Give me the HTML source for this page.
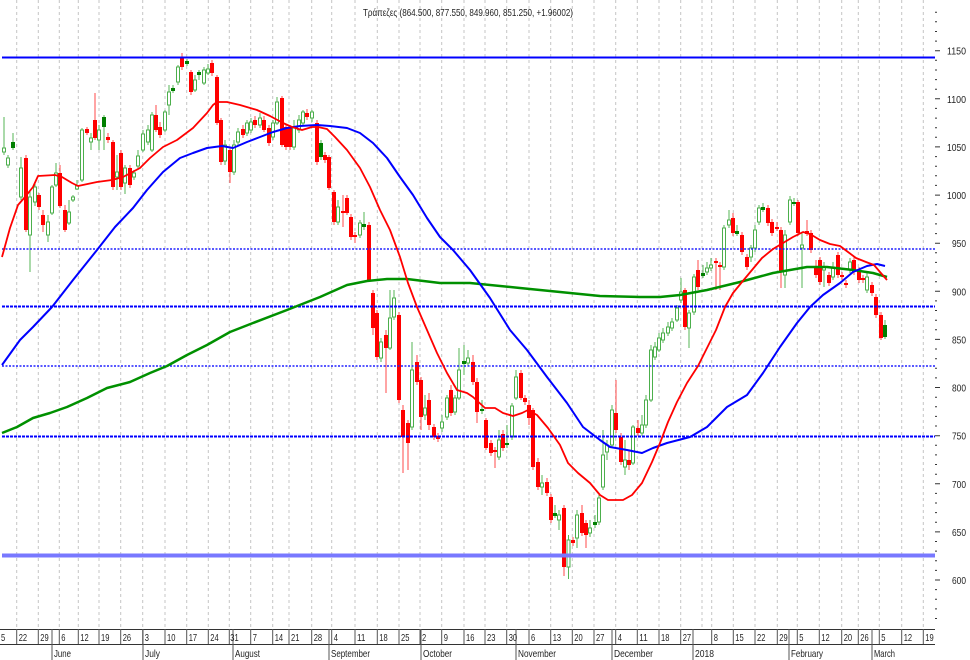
<!DOCTYPE html>
<html><head><meta charset="utf-8"><style>
html,body{margin:0;padding:0;background:#fff;}
svg{display:block;}
text{font-family:"Liberation Sans","Noto Sans CJK SC",sans-serif;fill:#222;}
</style></head><body>
<svg width="970" height="660" viewBox="0 0 970 660" xmlns="http://www.w3.org/2000/svg">
<rect width="970" height="660" fill="#fff"/>
<!-- vertical grid -->
<g stroke="#c4c4c4" stroke-width="1" stroke-dasharray="3,3" fill="none">
<path d="M16.7,0V628M38.3,0V628M59.3,0V628M78.3,0V628M99,0V628M120.7,0V628M142.7,0V628M165,0V628M186.7,0V628M208.3,0V628M229.3,0V628M250.7,0V628M272.7,0V628M289,0V628M311.7,0V628M331.7,0V628M355,0V628M377.3,0V628M399,0V628M420,0V628M441.7,0V628M464,0V628M485,0V628M506.7,0V628M529,0V628M550.7,0V628M572.3,0V628M594,0V628M615.7,0V628M637.3,0V628M659,0V628M680.7,0V628M702,0V628M711.7,0V628M733.3,0V628M755,0V628M777.3,0V628M797.3,0V628M819.3,0V628M841.7,0V628M858.3,0V628M879.3,0V628M901.7,0V628M923.3,0V628"/>
</g>
<!-- title -->
<text x="363" y="16" font-size="10.5" textLength="210" lengthAdjust="spacingAndGlyphs">Τράπεζες (864.500, 877.550, 849.960, 851.250, +1.96002)</text>
<!-- wicks -->
<path fill="none" stroke="#ff4a4a" stroke-width="1" d="M26,155V232M39,193V210M43,210V232M60,165V208M65,205V232M87,127V135M95,93V140M108,133V143M113,140V190M121,150V190M130,165V188M156,105V132M160,122V138M182,53V70M191,70V95M212,60V76M217,75V125M221,118V165M230,148V183M243,125V138M255,116V128M264,116V132M269,125V146M282,96V147M286,125V150M290,125V150M307,109V120M317,120V165M325,152V163M329,155V190M334,190V225M343,195V227M347,195V215M351,214V240M355,232V243M369,222V282M373,290V335M377,310V360M386,330V393M399,312V403M403,405V473M408,420V470M417,355V385M421,377V430M429,393V430M434,424V440M438,433V442M451,385V416M473,355V385M477,378V423M486,418V450M491,440V456M495,447V468M503,430V451M521,370V400M525,395V405M529,400V425M533,408V470M538,458V490M547,478V496M551,494V523M564,505V576M573,537V546M582,505V536M586,520V548M616,380V433M621,433V465M629,450V470M638,420V436M685,288V330M698,260V290M716,258V290M720,262V290M733,213V236M742,232V255M747,254V270M768,205V226M772,219V236M777,222V231M781,227V288M798,200V236M807,220V236M811,230V253M816,260V278M820,257V285M829,272V286M838,252V278M842,272V280M846,280V288M854,257V275M859,267V283M863,275V283M872,282V296M876,294V318M881,312V340"/>
<path fill="none" stroke="#55b555" stroke-width="1" d="M4,117V155M8,155V168M13,133V150M21,157V200M30,190V272M35,183V206M48,215V242M52,185V215M56,163V187M69,200V225M73,195V202M77,180V190M82,128V182M91,133V150M99,125V150M104,115V150M117,155V190M125,165V194M134,170V180M138,150V170M143,130V152M148,125V145M152,112V152M165,110V132M169,85V115M173,85V93M178,65V85M187,59V66M195,75V92M199,70V80M204,67V85M208,64V75M225,140V165M234,140V175M238,128V145M247,120V136M251,118V133M260,113V128M273,120V140M277,97V125M294,120V150M299,115V133M303,110V126M312,110V122M321,140V160M338,200V225M360,220V238M364,212V230M381,338V362M390,290V350M394,290V320M412,342V430M425,395V420M442,415V432M447,395V420M455,395V415M459,348V400M464,345V375M468,350V366M482,400V414M499,430V460M507,425V448M512,403V440M516,370V400M542,475V495M555,505V518M559,510V530M568.5,535V579M577,510V548M590,520V537M595,515V528M599,495V525M603,430V490M607,440V460M612,405V448M625,440V475M633,425V465M642,415V436M646,395V428M651,345V402M655,342V360M659,333V352M663,328V343M668,322V336M672,318V331M677,305V322M681,278V303M689,310V348M694,274V315M703,265V278M707,262V275M711,258V271M724,225V270M729,210V228M737,225V236M751,245V262M755,225V252M759,205V225M763,203V212M785,230V288M790,196V225M794,198V206M802,232V288M824,262V287M833,262V280M850,258V273M867,272V293M885,320V339"/>
<!-- red bodies -->
<path fill="#ff0000" stroke="none" d="M24,158h4V230h-4zM37,195h4V207h-4zM41,215h4V225h-4zM58,173h4V206h-4zM63,210h4V230h-4zM85,129h4V133h-4zM93,120h4V138h-4zM106,137h4V140h-4zM111,142h4V187h-4zM119,153h4V187h-4zM128,168h4V185h-4zM154,115h4V130h-4zM158,127h4V135h-4zM180,58h4V67h-4zM189,72h4V92h-4zM210,63h4V73h-4zM215,77h4V123h-4zM219,120h4V162h-4zM228,150h4V172h-4zM241,129h4V135h-4zM253,120h4V125h-4zM262,120h4V130h-4zM267,128h4V143h-4zM280,98h4V145h-4zM284,127h4V147h-4zM288,128h4V147h-4zM305,113h4V117h-4zM315,123h4V162h-4zM323,155h4V160h-4zM327,157h4V188h-4zM332,192h4V222h-4zM341,211h4V213h-4zM345,198h4V213h-4zM349,217h4V237h-4zM353,235h4V237h-4zM367,225h4V280h-4zM371,293h4V328h-4zM375,313h4V357h-4zM384,335h4V348h-4zM397,315h4V400h-4zM401,410h4V437h-4zM406,423h4V443h-4zM415,362h4V382h-4zM419,380h4V417h-4zM427,400h4V425h-4zM432,427h4V437h-4zM436,436h4V439h-4zM449,390h4V413h-4zM471,362h4V382h-4zM475,382h4V412h-4zM484,420h4V448h-4zM489,443h4V453h-4zM493,450h4V452h-4zM501,434h4V448h-4zM519,373h4V398h-4zM523,398h4V402h-4zM527,405h4V418h-4zM531,410h4V467h-4zM536,462h4V487h-4zM545,482h4V493h-4zM549,497h4V520h-4zM562,508h4V567h-4zM571,540h4V543h-4zM580,513h4V533h-4zM584,523h4V535h-4zM614,413h4V430h-4zM619,437h4V462h-4zM627,460h4V465h-4zM636,428h4V433h-4zM683,290h4V327h-4zM696,270h4V287h-4zM714,261h4V263h-4zM718,265h4V267h-4zM731,218h4V233h-4zM740,235h4V252h-4zM745,257h4V267h-4zM766,208h4V223h-4zM770,222h4V233h-4zM775,227h4V229h-4zM779,230h4V272h-4zM796,202h4V233h-4zM805,231h4V234h-4zM809,233h4V250h-4zM814,268h4V275h-4zM818,260h4V282h-4zM827,275h4V283h-4zM836,255h4V275h-4zM840,275h4V277h-4zM844,283h4V285h-4zM852,260h4V272h-4zM857,270h4V280h-4zM861,278h4V280h-4zM870,285h4V293h-4zM874,297h4V315h-4zM879,315h4V338h-4z"/>
<!-- dark green bodies -->
<path fill="#008000" stroke="none" d="M11,142h4V148h-4zM102,117h4V127h-4zM171,88h4V91h-4zM185,61h4V64h-4zM197,72h4V75h-4zM319,143h4V157h-4zM362,224h4V227h-4zM462,361h4V364h-4zM480,409h4V411h-4zM505,443h4V445h-4zM553,513h4V516h-4zM593,522h4V525h-4zM701,273h4V276h-4zM735,231h4V234h-4zM761,207h4V210h-4zM792,202h4V204h-4zM883,325h4V337h-4z"/>
<!-- hollow green bodies -->
<path fill="#fff" stroke="#4caf4c" stroke-width="1" d="M2.5,148h3V152h-3zM6.5,158h3V165h-3zM19.5,168h3V197h-3zM28.5,197h3V235h-3zM33.5,187h3V202h-3zM46.5,222h3V235h-3zM50.5,187h3V213h-3zM54.5,173h3V185h-3zM67.5,212h3V223h-3zM71.5,197h3V200h-3zM75.5,186h3V189h-3zM80.5,130h3V180h-3zM89.5,138h3V142h-3zM97.5,130h3V140h-3zM115.5,172h3V177h-3zM123.5,168h3V183h-3zM132.5,173h3V177h-3zM136.5,156h3V166h-3zM141.5,134h3V150h-3zM146.5,130h3V142h-3zM150.5,115h3V150h-3zM163.5,112h3V130h-3zM167.5,92h3V105h-3zM176.5,67h3V82h-3zM193.5,80h3V90h-3zM202.5,70h3V83h-3zM206.5,69h3V73h-3zM223.5,145h3V161h-3zM232.5,145h3V172h-3zM236.5,132h3V142h-3zM245.5,123h3V133h-3zM249.5,122h3V130h-3zM258.5,118h3V125h-3zM271.5,123h3V137h-3zM275.5,102h3V123h-3zM292.5,128h3V147h-3zM297.5,120h3V130h-3zM301.5,112h3V123h-3zM310.5,112h3V118h-3zM336.5,207h3V222h-3zM358.5,223h3V235h-3zM379.5,342h3V358h-3zM388.5,318h3V348h-3zM392.5,298h3V317h-3zM410.5,370h3V427h-3zM423.5,408h3V415h-3zM440.5,422h3V428h-3zM445.5,398h3V417h-3zM453.5,398h3V412h-3zM457.5,370h3V398h-3zM466.5,358h3V363h-3zM497.5,440h3V457h-3zM510.5,406h3V437h-3zM514.5,377h3V398h-3zM540.5,483h3V487h-3zM557.5,515h3V520h-3zM567,540h3V567h-3zM575.5,515h3V538h-3zM588.5,528h3V533h-3zM597.5,498h3V522h-3zM601.5,455h3V487h-3zM605.5,445h3V452h-3zM610.5,410h3V445h-3zM623.5,460h3V467h-3zM631.5,427h3V463h-3zM640.5,425h3V433h-3zM644.5,400h3V425h-3zM649.5,350h3V400h-3zM653.5,347h3V357h-3zM657.5,338h3V350h-3zM661.5,333h3V340h-3zM666.5,327h3V333h-3zM670.5,322h3V328h-3zM675.5,308h3V320h-3zM679.5,292h3V300h-3zM687.5,313h3V328h-3zM692.5,277h3V312h-3zM705.5,268h3V272h-3zM709.5,265h3V268h-3zM722.5,228h3V267h-3zM727.5,220h3V225h-3zM749.5,248h3V257h-3zM753.5,230h3V248h-3zM757.5,208h3V222h-3zM783.5,235h3V275h-3zM788.5,200h3V222h-3zM800.5,245h3V248h-3zM822.5,267h3V270h-3zM831.5,267h3V277h-3zM848.5,262h3V270h-3zM865.5,277h3V290h-3z"/>
<!-- level lines -->
<line x1="2" y1="57.5" x2="935" y2="57.5" stroke="#0000ff" stroke-width="2"/>
<line x1="2" y1="249" x2="935" y2="249" stroke="#2020ff" stroke-width="1.6" stroke-dasharray="2,1.5"/>
<line x1="2" y1="306.5" x2="935" y2="306.5" stroke="#0000ff" stroke-width="2" stroke-dasharray="3,1"/>
<line x1="2" y1="366" x2="935" y2="366" stroke="#2020ff" stroke-width="1.6" stroke-dasharray="2,1.5"/>
<line x1="2" y1="436.5" x2="935" y2="436.5" stroke="#0000ff" stroke-width="2" stroke-dasharray="3,1"/>
<line x1="2" y1="555.5" x2="935" y2="555.5" stroke="#7878ff" stroke-width="4"/>
<!-- moving averages -->
<polyline fill="none" stroke="#009000" stroke-width="2.5" stroke-linejoin="round" points="2,433 17,427 33,418 50,413 67,407 87,398 107,388 130,382 150,373 167,366 187,355 207,345 230,332 253,323 287,310 320,297 347,285 367,281 387,279 407,279 440,283 470,283 520,288 560,292 600,296 640,297 660,297 680,295 707,290 740,282 773,273 807,267 827,267 853,270 873,273 887,277"/>
<polyline fill="none" stroke="#0000ff" stroke-width="2" stroke-linejoin="round" points="2,365 20,340 33,327 52,307 73,280 97,250 115,227 133,208 147,190 163,172 180,158 193,153 207,148 222,146 233,148 247,142 260,137 273,132 287,128 300,126 317,125 330,126 347,128 360,133 373,143 387,158 400,177 413,195 427,218 440,237 453,250 470,270 490,298 510,330 527,350 547,377 567,403 583,427 600,440 610,447 627,450 642,453 653,448 667,443 690,437 707,427 727,407 747,395 763,373 780,347 797,323 810,307 823,295 840,283 853,272 867,266 877,264 885,266"/>
<polyline fill="none" stroke="#ff0000" stroke-width="1.8" stroke-linejoin="round" points="2,257 10,228 18,205 25,197 33,187 38,176 55,175 62,177 72,183 78,186 97,182 112,180 123,177 140,168 150,158 163,147 177,140 193,128 207,113 213,105 217,102 227,102 240,105 257,110 270,116 283,123 292,127 302,130 312,127 318,127 327,129 335,137 347,150 360,168 370,187 380,210 390,230 400,257 408,283 417,307 427,330 437,353 447,373 457,390 467,393 473,397 485,408 495,408 503,413 513,416 522,413 528,410 537,415 548,428 560,445 568,463 578,473 590,483 600,495 608,500 623,500 632,495 642,483 652,462 660,443 668,422 677,402 687,383 698,366 707,348 716,330 725,307 733,293 742,282 752,270 762,258 773,249 783,243 793,237 803,232 810,234 820,240 830,244 840,246 848,252 856,258 866,262 874,265 880,272 887,280"/>
<!-- right axis ticks -->
<path fill="none" stroke="#333" stroke-width="1" d="M935,12.2h2M935,21.8h2M935,31.5h2M935,41.1h2M935,50.7h5M935,60.3h2M935,70h2M935,79.6h2M935,89.2h2M935,98.8h5M935,108.4h2M935,118.1h2M935,127.7h2M935,137.3h2M935,146.9h5M935,156.6h2M935,166.2h2M935,175.8h2M935,185.4h2M935,195.1h5M935,204.7h2M935,214.3h2M935,223.9h2M935,233.6h2M935,243.2h5M935,252.8h2M935,262.4h2M935,272.1h2M935,281.7h2M935,291.3h5M935,300.9h2M935,310.5h2M935,320.2h2M935,329.8h2M935,339.4h5M935,349h2M935,358.7h2M935,368.3h2M935,377.9h2M935,387.5h5M935,397.2h2M935,406.8h2M935,416.4h2M935,426h2M935,435.7h5M935,445.3h2M935,454.9h2M935,464.5h2M935,474.2h2M935,483.8h5M935,493.4h2M935,503h2M935,512.6h2M935,522.3h2M935,531.9h5M935,541.5h2M935,551.1h2M935,560.8h2M935,570.4h2M935,580h5M935,589.6h2M935,599.3h2M935,608.9h2M935,618.5h2"/>
<g font-size="10.5" text-anchor="end">
<text x="966" y="54.7" textLength="19" lengthAdjust="spacingAndGlyphs">1150</text>
<text x="966" y="102.8" textLength="19" lengthAdjust="spacingAndGlyphs">1100</text>
<text x="966" y="150.9" textLength="19" lengthAdjust="spacingAndGlyphs">1050</text>
<text x="966" y="199.1" textLength="19" lengthAdjust="spacingAndGlyphs">1000</text>
<text x="966" y="247.2" textLength="14" lengthAdjust="spacingAndGlyphs">950</text>
<text x="966" y="295.3" textLength="14" lengthAdjust="spacingAndGlyphs">900</text>
<text x="966" y="343.4" textLength="14" lengthAdjust="spacingAndGlyphs">850</text>
<text x="966" y="391.5" textLength="14" lengthAdjust="spacingAndGlyphs">800</text>
<text x="966" y="439.7" textLength="14" lengthAdjust="spacingAndGlyphs">750</text>
<text x="966" y="487.8" textLength="14" lengthAdjust="spacingAndGlyphs">700</text>
<text x="966" y="535.9" textLength="14" lengthAdjust="spacingAndGlyphs">650</text>
<text x="966" y="584" textLength="14" lengthAdjust="spacingAndGlyphs">600</text>
</g>
<!-- bottom axis -->
<path fill="none" stroke="#333" stroke-width="1" d="M0,629.5H935M0,644.5H935"/>
<path fill="none" stroke="#555" stroke-width="1" d="M16.7,629V644M38.3,629V644M59.3,629V644M78.3,629V644M99,629V644M120.7,629V644M142.7,629V644M165,629V644M186.7,629V644M208.3,629V644M229.3,629V644M250.7,629V644M272.7,629V644M289,629V644M311.7,629V644M331.7,629V644M355,629V644M377.3,629V644M399,629V644M420,629V644M441.7,629V644M464,629V644M485,629V644M506.7,629V644M529,629V644M550.7,629V644M572.3,629V644M594,629V644M615.7,629V644M637.3,629V644M659,629V644M680.7,629V644M711.7,629V644M733.3,629V644M755,629V644M777.3,629V644M797.3,629V644M819.3,629V644M841.7,629V644M858.3,629V644M879.3,629V644M901.7,629V644M923.3,629V644"/>
<path fill="none" stroke="#555" stroke-width="1" d="M52,629V660M143,629V660M233,629V660M329,629V660M421,629V660M516,629V660M612,629V660M693,629V660M789,629V660M872,629V660"/>
<g font-size="10.5">
<text x="1" y="641" textLength="4.2" lengthAdjust="spacingAndGlyphs">5</text>
<text x="18.7" y="641" textLength="8.4" lengthAdjust="spacingAndGlyphs">22</text>
<text x="40.3" y="641" textLength="8.4" lengthAdjust="spacingAndGlyphs">29</text>
<text x="61.3" y="641" textLength="4.2" lengthAdjust="spacingAndGlyphs">6</text>
<text x="80.3" y="641" textLength="8.4" lengthAdjust="spacingAndGlyphs">12</text>
<text x="101" y="641" textLength="8.4" lengthAdjust="spacingAndGlyphs">19</text>
<text x="122.7" y="641" textLength="8.4" lengthAdjust="spacingAndGlyphs">26</text>
<text x="144.7" y="641" textLength="4.2" lengthAdjust="spacingAndGlyphs">3</text>
<text x="167" y="641" textLength="8.4" lengthAdjust="spacingAndGlyphs">10</text>
<text x="188.7" y="641" textLength="8.4" lengthAdjust="spacingAndGlyphs">17</text>
<text x="210.3" y="641" textLength="8.4" lengthAdjust="spacingAndGlyphs">24</text>
<text x="230.3" y="641" textLength="8.4" lengthAdjust="spacingAndGlyphs">31</text>
<text x="252.7" y="641" textLength="4.2" lengthAdjust="spacingAndGlyphs">7</text>
<text x="274.7" y="641" textLength="8.4" lengthAdjust="spacingAndGlyphs">14</text>
<text x="291" y="641" textLength="8.4" lengthAdjust="spacingAndGlyphs">21</text>
<text x="313.7" y="641" textLength="8.4" lengthAdjust="spacingAndGlyphs">28</text>
<text x="333.7" y="641" textLength="4.2" lengthAdjust="spacingAndGlyphs">4</text>
<text x="357" y="641" textLength="8.4" lengthAdjust="spacingAndGlyphs">11</text>
<text x="379.3" y="641" textLength="8.4" lengthAdjust="spacingAndGlyphs">18</text>
<text x="401" y="641" textLength="8.4" lengthAdjust="spacingAndGlyphs">25</text>
<text x="422" y="641" textLength="4.2" lengthAdjust="spacingAndGlyphs">2</text>
<text x="443.7" y="641" textLength="4.2" lengthAdjust="spacingAndGlyphs">9</text>
<text x="466" y="641" textLength="8.4" lengthAdjust="spacingAndGlyphs">16</text>
<text x="487" y="641" textLength="8.4" lengthAdjust="spacingAndGlyphs">23</text>
<text x="508.7" y="641" textLength="8.4" lengthAdjust="spacingAndGlyphs">30</text>
<text x="531" y="641" textLength="4.2" lengthAdjust="spacingAndGlyphs">6</text>
<text x="552.7" y="641" textLength="8.4" lengthAdjust="spacingAndGlyphs">13</text>
<text x="574.3" y="641" textLength="8.4" lengthAdjust="spacingAndGlyphs">20</text>
<text x="596" y="641" textLength="8.4" lengthAdjust="spacingAndGlyphs">27</text>
<text x="617.7" y="641" textLength="4.2" lengthAdjust="spacingAndGlyphs">4</text>
<text x="639.3" y="641" textLength="8.4" lengthAdjust="spacingAndGlyphs">11</text>
<text x="661" y="641" textLength="8.4" lengthAdjust="spacingAndGlyphs">18</text>
<text x="682.7" y="641" textLength="8.4" lengthAdjust="spacingAndGlyphs">27</text>
<text x="713.7" y="641" textLength="4.2" lengthAdjust="spacingAndGlyphs">8</text>
<text x="735.3" y="641" textLength="8.4" lengthAdjust="spacingAndGlyphs">15</text>
<text x="757" y="641" textLength="8.4" lengthAdjust="spacingAndGlyphs">22</text>
<text x="779.3" y="641" textLength="8.4" lengthAdjust="spacingAndGlyphs">29</text>
<text x="799.3" y="641" textLength="4.2" lengthAdjust="spacingAndGlyphs">5</text>
<text x="821.3" y="641" textLength="8.4" lengthAdjust="spacingAndGlyphs">12</text>
<text x="843.7" y="641" textLength="8.4" lengthAdjust="spacingAndGlyphs">20</text>
<text x="860.3" y="641" textLength="8.4" lengthAdjust="spacingAndGlyphs">26</text>
<text x="881.3" y="641" textLength="4.2" lengthAdjust="spacingAndGlyphs">5</text>
<text x="903.7" y="641" textLength="8.4" lengthAdjust="spacingAndGlyphs">12</text>
<text x="925.3" y="641" textLength="8.4" lengthAdjust="spacingAndGlyphs">19</text>
</g>
<g font-size="10.5">
<text x="54" y="657" textLength="17" lengthAdjust="spacingAndGlyphs">June</text>
<text x="145" y="657" textLength="15" lengthAdjust="spacingAndGlyphs">July</text>
<text x="235" y="657" textLength="25" lengthAdjust="spacingAndGlyphs">August</text>
<text x="331" y="657" textLength="39" lengthAdjust="spacingAndGlyphs">September</text>
<text x="423" y="657" textLength="29" lengthAdjust="spacingAndGlyphs">October</text>
<text x="518" y="657" textLength="38" lengthAdjust="spacingAndGlyphs">November</text>
<text x="614" y="657" textLength="39" lengthAdjust="spacingAndGlyphs">December</text>
<text x="695" y="657" textLength="19" lengthAdjust="spacingAndGlyphs">2018</text>
<text x="791" y="657" textLength="32" lengthAdjust="spacingAndGlyphs">February</text>
<text x="874" y="657" textLength="21" lengthAdjust="spacingAndGlyphs">March</text>
</g>
</svg>
</body></html>
